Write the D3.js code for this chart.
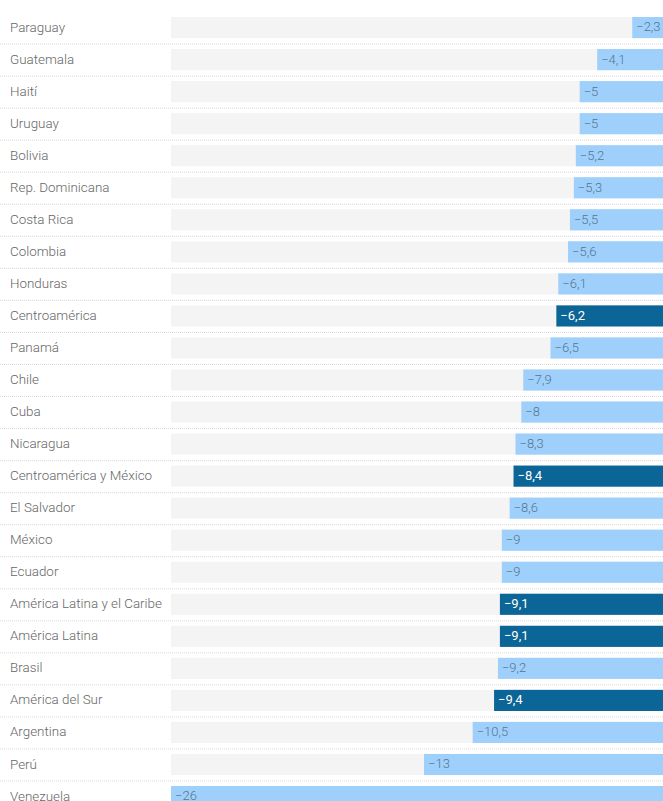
<!DOCTYPE html>
<html>
<head>
<meta charset="utf-8">
<script src="https://cdn.jsdelivr.net/npm/d3@7"></script>
<style>
  html, body { margin: 0; padding: 0; background: #fff; overflow: hidden; }
  svg { display: block; }
</style>
</head>
<body>
<svg id="chart"></svg>
<script>
// Variación del PIB 2020 (%) por país y agregado regional
const countries = [
  "Paraguay", "Guatemala", "Haití", "Uruguay", "Bolivia", "Rep. Dominicana",
  "Costa Rica", "Colombia", "Honduras", "Centroamérica", "Panamá", "Chile",
  "Cuba", "Nicaragua", "Centroamérica y México", "El Salvador", "México",
  "Ecuador", "América Latina y el Caribe", "América Latina", "Brasil",
  "América del Sur", "Argentina", "Perú", "Venezuela"
];
const values = [
  -2.3, -4.1, -5, -5, -5.2, -5.3,
  -5.5, -5.6, -6.1, -6.2, -6.5, -7.9,
  -8, -8.3, -8.4, -8.6, -9,
  -9, -9.1, -9.1, -9.2,
  -9.4, -10.5, -13, -26
];
// Agregados regionales, resaltados en azul oscuro
const aggregates = [
  "Centroamérica", "Centroamérica y México", "América Latina y el Caribe",
  "América Latina", "América del Sur"
];
const xDomain = [-26, 0];

const rows = countries.map((c, i) => ({ name: c, value: values[i], agg: aggregates.includes(c) }));

const W = 663, H = 801;
const svg = d3.select("#chart").attr("width", W).attr("height", H);

const step = 32.04;
const pad = 0.34;
const yStart = 17 - step * pad / 2;

const y = d3.scaleBand()
  .domain(countries)
  .range([yStart, yStart + countries.length * step])
  .paddingInner(pad)
  .paddingOuter(pad / 2);

const x = d3.scaleLinear().domain(xDomain).range([171, 677]);

const es = d3.formatLocale({ decimal: ",", thousands: ".", grouping: [3], currency: ["", " €"], minus: "\u2212" });
const fmt = es.format("~g");

// separadores punteados entre filas
svg.append("g")
  .selectAll("line")
  .data(rows.slice(1))
  .join("line")
  .attr("x1", 0).attr("x2", W)
  .attr("y1", d => y(d.name) - y.step() * pad / 2 + 0.5)
  .attr("y2", d => y(d.name) - y.step() * pad / 2 + 0.5)
  .attr("stroke", "#dadada")
  .attr("stroke-width", 1)
  .attr("stroke-dasharray", "1,1");

const row = svg.append("g").selectAll("g")
  .data(rows)
  .join("g");

// fondo gris de cada fila
row.append("rect")
  .attr("x", x(xDomain[0]))
  .attr("y", d => y(d.name))
  .attr("width", x(xDomain[1]) - x(xDomain[0]))
  .attr("height", y.bandwidth())
  .attr("fill", "#f4f4f4");

// barras
row.append("rect")
  .attr("x", d => x(d.value))
  .attr("y", d => y(d.name))
  .attr("width", d => x(0) - x(d.value))
  .attr("height", y.bandwidth())
  .attr("fill", d => d.agg ? "#0b6596" : "#9fd0fb");

// nombres
row.append("text")
  .attr("x", 10)
  .attr("y", d => y(d.name) + y.bandwidth() / 2)
  .attr("dy", "0.3em")
  .attr("font-family", "Roboto, sans-serif")
  .attr("font-weight", 300)
  .attr("font-size", 13.4)
  .attr("fill", "#666")
  .text(d => d.name);

// valores dentro de la barra
row.append("text")
  .attr("x", d => x(d.value) + 4)
  .attr("y", d => y(d.name) + y.bandwidth() / 2)
  .attr("dy", "0.3em")
  .attr("font-family", "Roboto, sans-serif")
  .attr("font-weight", d => d.agg ? 400 : 300)
  .attr("font-size", 13)
  .attr("fill", d => d.agg ? "#ffffff" : "#557690")
  .text(d => fmt(d.value));
</script>
</body>
</html>
